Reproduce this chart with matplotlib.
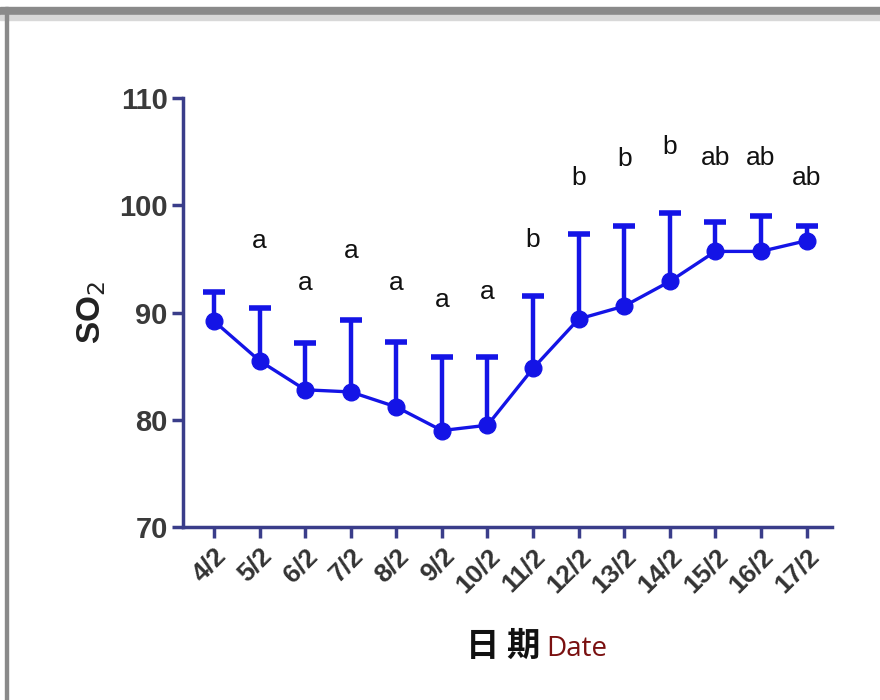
import matplotlib
matplotlib.use("Agg")
import matplotlib.pyplot as plt
from matplotlib.patches import Rectangle
from matplotlib.transforms import ScaledTranslation

dates = ["4/2", "5/2", "6/2", "7/2", "8/2", "9/2", "10/2", "11/2", "12/2", "13/2", "14/2", "15/2", "16/2", "17/2"]
means = [89.2, 85.5, 82.8, 82.6, 81.2, 79.0, 79.5, 84.8, 89.4, 90.6, 92.9, 95.7, 95.7, 96.7]
upper = [91.9, 90.4, 87.2, 89.3, 87.3, 85.9, 85.9, 91.5, 97.3, 98.1, 99.3, 98.4, 99.0, 98.1]
letters = ["", "a", "a", "a", "a", "a", "a", "b", "b", "b", "b", "ab", "ab", "ab"]
letter_y = [0, 96.7, 92.75, 95.7, 92.75, 91.2, 91.9, 96.8, 102.5, 104.3, 105.4, 104.4, 104.4, 102.5]

plt.rcParams['font.family'] = ['Liberation Sans', 'DejaVu Sans']

fig = plt.figure(figsize=(8.8, 7.0), dpi=100)
# screenshot-like frame
fig.patches.append(Rectangle((0, 0.979), 1, 0.011, transform=fig.transFigure, color='#8a8a8a', zorder=0))
fig.patches.append(Rectangle((0, 0.971), 1, 0.008, transform=fig.transFigure, color='#d8d8d8', zorder=0))
fig.patches.append(Rectangle((0.006, 0), 0.003, 0.99, transform=fig.transFigure, color='#8a8a8a', zorder=0))

ax = fig.add_axes([0.208, 0.247, 0.737, 0.613])
x = list(range(len(dates)))
blue = '#1414e6'
axis_col = '#3a3d8a'

# vertical error stems (upper only)
ax.vlines(x, means, upper, color=blue, lw=3.2, zorder=2)
ax.plot(x, upper, ls='none', marker='_', ms=16, mew=4, color=blue, zorder=2)
ax.plot(x, means, color=blue, lw=2.4, marker='o', ms=12, zorder=3)

for xi, t, ly in zip(x, letters, letter_y):
    if t:
        ax.text(xi, ly, t, ha='center', va='center', fontsize=19, color='#111111')

ax.set_ylim(70, 110)
ax.set_xlim(-0.68, 13.55)
ax.set_yticks([70, 80, 90, 100, 110])
ax.set_xticks(x)
ax.set_xticklabels(dates, rotation=45, ha='right', rotation_mode='anchor',
                   fontsize=19, fontweight='bold', color='#333333')
offset = ScaledTranslation(12 / 100, -4 / 100, fig.dpi_scale_trans)
for lab in ax.get_xticklabels():
    lab.set_transform(lab.get_transform() + offset)
ax.set_yticklabels([str(v) for v in [70, 80, 90, 100, 110]],
                   fontsize=21, fontweight='bold', color='#3a3a3a')

for s in ['top', 'right']:
    ax.spines[s].set_visible(False)
for s in ['left', 'bottom']:
    ax.spines[s].set_color(axis_col)
    ax.spines[s].set_linewidth(2.5)
ax.tick_params(axis='both', color=axis_col, width=2.5, length=8)
ax.tick_params(axis='x', pad=4)
ax.tick_params(axis='y', pad=3)

ax.set_ylabel("SO$_2$", fontsize=24, fontweight='bold', color='#222222', labelpad=8)

fig.text(0.530, 0.063, "日 期", fontsize=24, fontweight='bold', color='#111111',
         ha='left', va='baseline', family=['Noto Sans CJK SC', 'DejaVu Sans'])
fig.text(0.621, 0.063, "Date", fontsize=20, color='#7a1010', ha='left', va='baseline',
         family=['Open Sans', 'DejaVu Sans'])

fig.savefig("out.png", dpi=100)
